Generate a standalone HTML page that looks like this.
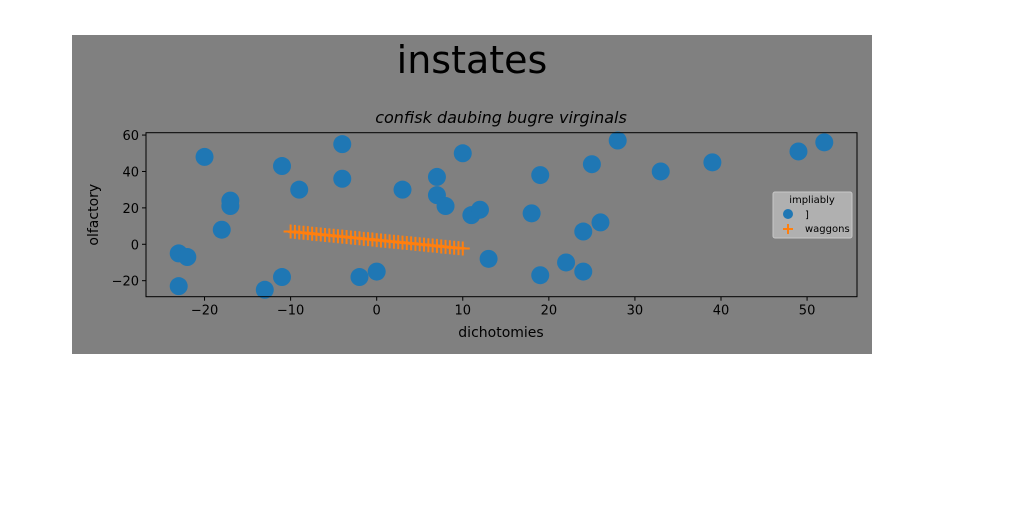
<!DOCTYPE html>
<html><head><meta charset="utf-8"><style>
body{margin:0;background:#fff;width:1024px;height:512px;overflow:hidden}
svg{display:block}
text{font-family:"DejaVu Sans","Liberation Sans",sans-serif}
</style></head><body>
<svg id="c" width="1024" height="512">
<rect x="72" y="35" width="800" height="319" fill="#808080"/>
<text x="472" y="73" font-size="38" text-anchor="middle" font-family="'Comic Sans MS','DejaVu Sans',sans-serif">instates</text>
<text x="501" y="123" font-size="16" text-anchor="middle" font-style="italic" font-family="'Liberation Serif',serif">confisk daubing bugre virginals</text>
<g id="plot"></g>
</svg>
<script>
const blueX=[-23,-22,-23,-20,-18,-17,-17,-13,-11,-11,-9,-4,-4,-2,0,3,7,7,8,10,11,12,13,18,19,19,22,24,24,25,26,28,33,39,49,52];
const blueY=[-5,-7,-23,48,8,24,21,-25,43,-18,30,55,36,-18,-15,30,37,27,21,50,16,19,-8,17,38,-17,-10,7,-15,44,12,57,40,45,51,56];
const orangeX=[-10,-9.5,-9,-8.5,-8,-7.5,-7,-6.5,-6,-5.5,-5,-4.5,-4,-3.5,-3,-2.5,-2,-1.5,-1,-0.5,0,0.5,1,1.5,2,2.5,3,3.5,4,4.5,5,5.5,6,6.5,7,7.5,8,8.5,9,9.5,10];
const orangeY=[7,6.8,6.5,6.3,6.1,5.8,5.6,5.4,5.1,4.9,4.7,4.4,4.2,4,3.7,3.5,3.3,3,2.8,2.6,2.3,2.1,1.9,1.6,1.4,1.2,0.9,0.7,0.5,0.2,0,-0.2,-0.5,-0.7,-0.9,-1.2,-1.4,-1.6,-1.9,-2.1,-2.3];
const xTicks=[-20,-10,0,10,20,30,40,50];
const yTicks=[-20,0,20,40,60];
const X0=-26.8,X1=55.8,Y0=-28.8,Y1=61.3,L=146,R=857,T=132.7,B=296.7;
const sx=v=>L+(v-X0)/(X1-X0)*(R-L), sy=v=>B-(v-Y0)/(Y1-Y0)*(B-T);
const NS="http://www.w3.org/2000/svg",g=document.getElementById('plot');
function mk(t,a,p){const e=document.createElementNS(NS,t);for(const k in a)e.setAttribute(k,a[k]);(p||g).appendChild(e);return e;}
xTicks.forEach(v=>{
 const t=mk('line',{x1:sx(v),x2:sx(v),y1:B,y2:B+4,stroke:'#000'});
 
 
 const l=mk('text',{x:sx(v),y:B+18,'font-size':13,'text-anchor':'middle'});l.textContent=v<0?'\u2212'+(-v):v;
 
 
});
yTicks.forEach(v=>{
 const t=mk('line',{x1:L-4,x2:L,y1:sy(v),y2:sy(v),stroke:'#000'});
 
 
 const l=mk('text',{x:L-7,y:sy(v)+5,'font-size':13,'text-anchor':'end'});l.textContent=v<0?'\u2212'+(-v):v;
 
 
});
blueX.forEach((v,i)=>{
 const c=mk('circle',{cx:sx(v),cy:sy(blueY[i]),r:9,fill:'#1f77b4'});
 
 
});
const pl=mk('polyline',{points:orangeX.map((v,i)=>sx(v)+','+sy(orangeY[i])).join(' '),fill:'none',stroke:'#ff7f0e','stroke-width':2});


orangeX.forEach((v,i)=>{
 const x=sx(v),y=sy(orangeY[i]);
 const p=mk('path',{d:`M${x-7} ${y}H${x+7}M${x} ${y-7}V${y+7}`,stroke:'#ff7f0e','stroke-width':2});
 
 
});
const f=mk('rect',{x:L,y:T,width:R-L,height:B-T,fill:'none',stroke:'#000'});


const xl=mk('text',{x:501,y:337,'font-size':14,'text-anchor':'middle'});xl.textContent='dichotomies';


const yl=mk('text',{x:0,y:0,'font-size':14,'text-anchor':'middle',transform:`translate(98,${(T+B)/2}) rotate(-90)`});yl.textContent='olfactory';


const lg=mk('g',{});


mk('rect',{x:773,y:192,width:79,height:46,fill:'#b0b0b0',stroke:'#c8c8c8',rx:2},lg);
const lt=mk('text',{x:812,y:203,'font-size':10,'text-anchor':'middle'},lg);lt.textContent='impliably';
mk('circle',{cx:788,cy:214,r:5,fill:'#1f77b4'},lg);
const l1=mk('text',{x:805,y:218,'font-size':10},lg);l1.textContent=']';
mk('path',{d:'M783 229H793M788 224V234',stroke:'#ff7f0e','stroke-width':2},lg);
const l2=mk('text',{x:805,y:232,'font-size':10},lg);l2.textContent='waggons';
</script>
</body></html>
